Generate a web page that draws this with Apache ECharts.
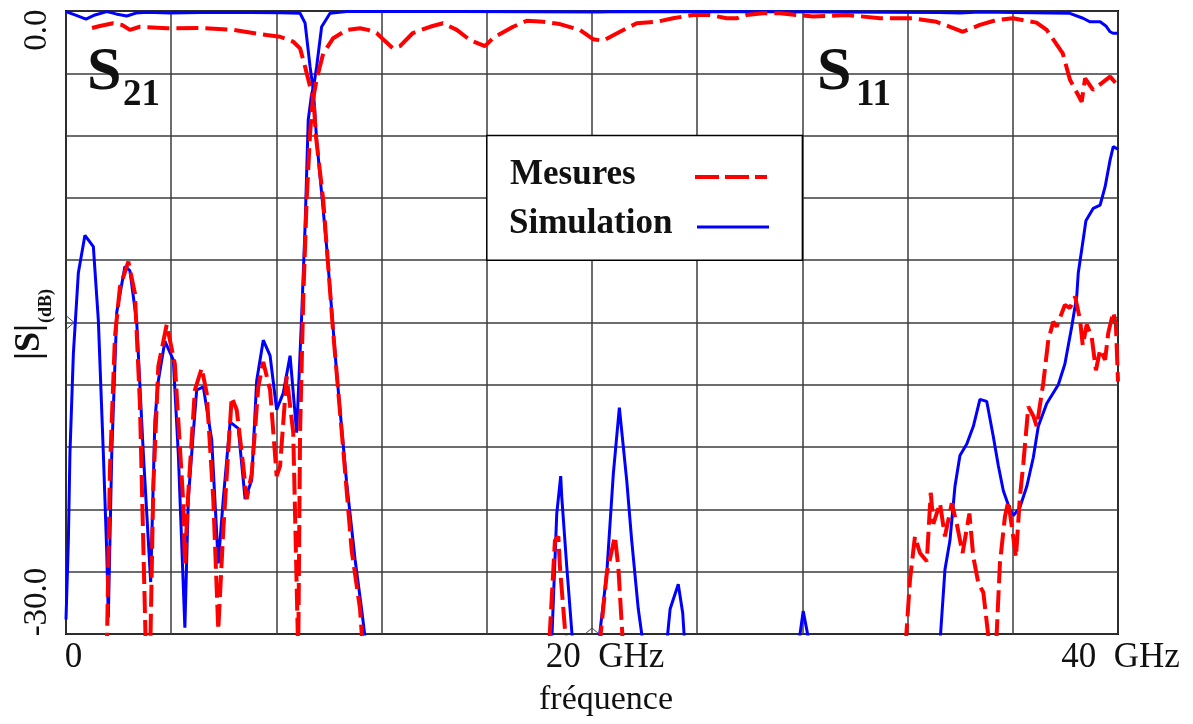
<!DOCTYPE html>
<html>
<head>
<meta charset="utf-8">
<title>S21 / S11</title>
<script src="https://cdn.jsdelivr.net/npm/echarts@6/dist/echarts.min.js"></script>
<style>
  html, body { margin: 0; padding: 0; background: #fff; }
  #main { width: 1193px; height: 724px; }
</style>
</head>
<body>
<div id="main"></div>
<script>
// axes (GHz / dB)
var xTicks = [0, 20, 40];
var xTickText = ['0', '20  GHz', '40  GHz'];
var yTickText = ['0.0', '-30.0'];

// S21 simulation (blue, top)
var s21SimFreq = [0.00, 0.34, 0.76, 1.10, 1.55, 1.90, 2.31, 2.66, 3.07, 3.95, 5.10, 7.00, 8.14, 8.90, 9.09, 9.28, 9.40, 9.53, 9.72, 10.04, 10.67, 15.0, 20.3, 21.0, 27.0, 33.2, 34.0, 34.75, 37.4, 38.17, 38.67, 38.94, 39.32, 39.54, 39.70, 39.81, 40.00];
var s21SimDb = [-0.03, -0.19, -0.39, -0.19, -0.03, -0.14, -0.24, -0.10, -0.06, -0.10, -0.07, -0.07, -0.08, -0.11, -0.58, -2.68, -3.8, -2.68, -0.76, -0.11, -0.03, -0.03, -0.05, -0.03, -0.04, -0.07, -0.10, -0.05, -0.10, -0.11, -0.35, -0.52, -0.52, -0.72, -1.00, -1.07, -1.07];

// S21 mesures (red dashed, top)
var s21MesFreq = [0.99, 1.29, 1.79, 2.13, 2.43, 2.81, 3.83, 5.10, 6.35, 7.63, 8.14, 8.64, 8.90, 9.09, 9.28, 9.40, 9.53, 9.78, 10.16, 10.67, 11.18, 11.48, 11.81, 12.09, 12.43, 12.70, 13.19, 13.84, 14.33, 14.86, 15.36, 15.93, 16.24, 17.00, 17.52, 18.14, 18.78, 19.54, 20.04, 20.42, 21.06, 21.70, 22.46, 23.08, 23.84, 24.49, 25.12, 25.50, 25.88, 26.50, 27.15, 27.78, 28.40, 29.68, 30.95, 32.20, 33.10, 34.10, 34.75, 35.39, 36.00, 36.90, 37.29, 37.90, 38.17, 38.62, 38.75, 39.05, 39.70, 40.00];
var s21MesDb = [-0.82, -0.72, -0.59, -0.67, -0.91, -0.76, -0.83, -0.82, -0.91, -1.16, -1.24, -1.48, -1.80, -2.68, -3.64, -4.2, -3.30, -2.04, -1.31, -0.91, -0.83, -0.91, -1.06, -1.40, -1.80, -1.69, -1.06, -0.76, -0.59, -0.91, -1.40, -1.69, -1.30, -0.76, -0.47, -0.52, -0.63, -0.91, -1.36, -1.43, -1.00, -0.59, -0.52, -0.35, -0.19, -0.19, -0.35, -0.35, -0.19, -0.11, -0.11, -0.19, -0.27, -0.19, -0.35, -0.35, -0.52, -1.00, -0.67, -0.43, -0.35, -0.56, -0.91, -2.04, -3.30, -4.37, -3.24, -3.80, -3.16, -3.60];

// S11 simulation (blue, bottom); -31 = below the -30 dB floor
var s11SimFreq = [0.00, 0.09, 0.15, 0.28, 0.47, 0.72, 1.04, 1.23, 1.42, 1.55, 1.61, 1.74, 1.93, 2.24, 2.43, 2.69, 2.94, 3.22, 3.38, 3.51, 3.76, 4.08, 4.27, 4.52, 4.65, 4.84, 4.97, 5.22, 5.54, 5.79, 5.98, 6.24, 6.55, 6.81, 7.06, 7.25, 7.50, 7.76, 8.01, 8.26, 8.52, 8.77, 8.96, 9.09, 9.21, 9.34, 9.40, 9.53, 9.91, 10.29, 10.67, 10.99, 11.24, 11.45,
  18.45, 18.66, 18.81, 18.85, 19.04, 19.30, 20.20, 20.56, 20.81, 21.04, 21.32, 21.51, 21.76, 22.00, 22.80, 22.97, 23.28, 23.45, 23.55, 27.80, 28.03, 28.35,
  33.20, 33.42, 33.61, 33.80, 33.99, 34.25, 34.50, 34.75, 35.01, 35.26, 35.45, 35.64, 35.89, 36.02, 36.27, 36.53, 36.78, 36.97, 37.29, 37.73, 37.98, 38.24, 38.43, 38.49, 38.62, 38.78, 39.06, 39.32, 39.51, 39.70, 39.82, 40.00];
var s11SimDb = [-29.3, -25.5, -21.3, -16.5, -12.6, -10.8, -11.35, -14.9, -21.3, -26.1, -29.2, -21.3, -14.5, -12.3, -12.5, -15.0, -21.3, -27.5, -19.7, -17.8, -15.9, -16.8, -21.3, -29.7, -23.5, -20.3, -18.25, -18.1, -20.65, -26.6, -23.5, -19.8, -20.1, -23.5, -22.6, -17.8, -15.85, -16.6, -19.2, -18.4, -16.6, -20.3, -14.7, -10.4, -5.25, -4.0, -3.7, -6.2, -11.35, -17.4, -22.7, -26.4, -28.8, -31,
  -31, -24.2, -22.4, -23.4, -26.75, -31, -31, -27.1, -22.3, -19.1, -22.6, -25.5, -28.8, -31, -31, -28.8, -27.6, -29.0, -31, -31, -28.9, -31,
  -31, -26.9, -25.5, -22.9, -21.4, -20.85, -20.0, -18.7, -18.8, -20.5, -21.9, -23.1, -24.0, -24.3, -23.9, -22.9, -21.5, -20.0, -18.9, -18.0, -17.0, -15.2, -13.75, -12.6, -11.5, -10.1, -9.5, -9.35, -8.46, -7.17, -6.53, -6.66];

// S11 mesures (red dashed, bottom)
var s11MesFreq = [1.55, 1.67, 1.86, 2.05, 2.37, 2.62, 2.81, 3.04, 3.20, 3.32, 3.51, 3.83, 4.14, 4.46, 4.52, 4.64, 4.90, 5.16, 5.35, 5.60, 5.79, 5.98, 6.30, 6.49, 6.74, 6.87, 7.06, 7.31, 7.50, 7.76, 8.01, 8.14, 8.39, 8.64, 8.83, 8.90, 9.02, 9.15, 9.28, 9.40, 9.50, 9.78, 10.16, 10.54, 10.86, 11.18, 11.30,
  18.35, 18.59, 18.72, 18.78, 19.05, 20.25, 20.56, 20.87, 21.00, 21.20,
  31.90, 32.09, 32.28, 32.47, 32.73, 32.88, 32.98, 33.23, 33.42, 33.68, 33.87, 34.09, 34.35, 34.50, 34.69, 34.88, 35.15, 35.35, 35.51, 35.70, 35.83, 35.96, 36.12, 36.27, 36.40, 36.59, 36.78, 36.91, 37.16, 37.35, 37.54, 37.67, 37.98, 38.17, 38.37, 38.56, 38.66, 38.81, 39.00, 39.16, 39.32, 39.51, 39.63, 39.82, 39.92, 40.00];
var s11MesDb = [-31, -22.1, -15.7, -13.3, -12.07, -13.6, -18.9, -31, -31, -22.9, -17.1, -15.1, -17.0, -23.7, -26.6, -23.4, -18.25, -17.2, -18.4, -23.5, -29.8, -25.0, -18.6, -19.2, -21.9, -23.5, -22.3, -18.1, -16.9, -18.25, -22.4, -21.9, -17.6, -20.3, -31, -20.3, -13.9, -9.1, -5.9, -4.0, -6.0, -9.1, -15.5, -21.1, -25.95, -28.8, -31,
  -31, -25.5, -25.3, -26.75, -31, -31, -27.1, -25.3, -26.75, -31,
  -31, -27.4, -25.3, -26.1, -26.5, -23.2, -24.7, -23.7, -25.3, -23.7, -24.7, -26.1, -24.2, -26.3, -27.55, -28.0, -31, -31, -26.6, -24.35, -23.6, -24.8, -26.3, -23.4, -21.8, -19.05, -19.5, -20.0, -17.9, -15.84, -14.96, -15.2, -14.15, -14.3, -13.75, -14.9, -16.1, -15.1, -15.7, -17.3, -16.3, -16.8, -15.5, -14.5, -15.1, -17.85];

var SERIF = "'Liberation Serif', 'Times New Roman', serif";
var RED = '#ff0000';
var BLUE = '#0000ff';

function pairs(f, v) {
    return f.map(function (x, i) { return [x, v[i]]; });
}

//实测曲线 虚线
function mesSeries(name, f, v) {
    return {
        name: name, type: 'line', symbol: 'none', clip: true, z: 4,
        lineStyle: {color: RED, width: 4, type: [22, 7]},
        data: pairs(f, v)
    };
}
//仿真曲线 实线
function simSeries(name, f, v) {
    return {
        name: name, type: 'line', symbol: 'none', clip: true, z: 3,
        lineStyle: {color: BLUE, width: 3},
        data: pairs(f, v)
    };
}

var chart = echarts.init(document.getElementById('main'));
chart.setOption({
    animation: false,
    backgroundColor: '#fff',
    grid: {left: 66, top: 11, right: 75, bottom: 90, show: true, borderColor: '#000', borderWidth: 2},
    xAxis: {
        type: 'value', min: 0, max: 40, interval: 4,
        axisLine: {show: false}, axisTick: {show: false},
        splitLine: {show: true, lineStyle: {color: '#3c3c3c', width: 1.5}},
        axisLabel: {
            showMinLabel: true, showMaxLabel: true, margin: 6,
            color: '#111', fontFamily: SERIF, fontSize: 35,
            formatter: function (v) {
                var i = xTicks.indexOf(v);
                if (i < 0) return '';
                return '{t' + i + '|' + xTickText[i] + '}';
            },
            rich: {
                t0: {fontFamily: SERIF, fontSize: 35, color: '#111', padding: [0, 0, 0, 15]},
                t1: {fontFamily: SERIF, fontSize: 35, color: '#111', padding: [0, 0, 0, 26]},
                t2: {fontFamily: SERIF, fontSize: 35, color: '#111', padding: [0, 0, 0, 5]}
            }
        }
    },
    yAxis: {
        type: 'value', min: -30, max: 0, interval: 3,
        axisLine: {show: false}, axisTick: {show: false}, axisLabel: {show: false},
        splitLine: {show: true, lineStyle: {color: '#3c3c3c', width: 1.5}}
    },
    series: [
        simSeries('S21 Simulation', s21SimFreq, s21SimDb),
        simSeries('S11 Simulation', s11SimFreq, s11SimDb),
        mesSeries('S21 Mesures', s21MesFreq, s21MesDb),
        mesSeries('S11 Mesures', s11MesFreq, s11MesDb)
    ]
});

function px(f, db) {
    return chart.convertToPixel({gridIndex: 0}, [f, db]);
}

function caret(p, pts) {
    return {
        type: 'polyline', z: 20, silent: true,
        shape: {points: pts.map(function (d) { return [p[0] + d[0], p[1] + d[1]]; })},
        style: {stroke: '#444', lineWidth: 1, fill: null}
    };
}

function txt(x, y, text, size, opts) {
    opts = opts || {};
    return {
        type: 'text', z: 30, silent: true, x: x, y: y, rotation: opts.rot || 0,
        style: {
            text: text, fill: '#111',
            font: (opts.bold ? 'bold ' : '') + size + 'px ' + SERIF,
            align: opts.align || 'left', verticalAlign: 'middle'
        }
    };
}

// legend box sits on the grid cells 16-28 GHz, -6 to -12 dB
var b0 = px(16, -6), b1 = px(28, -12);
var top = px(20, 0), bot = px(20, -30), lft = px(0, -15), rgt = px(40, -15);

chart.setOption({
    graphic: [
        {
            type: 'rect', z: 10, silent: true,
            shape: {x: b0[0], y: b0[1], width: b1[0] - b0[0], height: b1[1] - b0[1]},
            style: {fill: '#fff', stroke: '#000', lineWidth: 1.5}
        },
        txt(510, 175, 'Mesures', 35, {bold: true}),
        txt(509, 224, 'Simulation', 35, {bold: true}),
        {
            type: 'line', z: 30, silent: true,
            shape: {x1: 695, y1: 177, x2: 767, y2: 177},
            style: {stroke: RED, lineWidth: 4, lineDash: [24, 6]}
        },
        {
            type: 'line', z: 30, silent: true,
            shape: {x1: 697, y1: 227, x2: 769, y2: 227},
            style: {stroke: BLUE, lineWidth: 3}
        },
        // S21 / S11 labels
        txt(87, 73, 'S', 62, {bold: true}),
        txt(123, 95, '21', 37, {bold: true}),
        txt(817, 73, 'S', 62, {bold: true}),
        txt(856, 95, '11', 37, {bold: true}),
        // y tick labels
        txt(37, 30, yTickText[0], 33, {rot: Math.PI / 2, align: 'center'}),
        txt(37, 602, yTickText[1], 33, {rot: Math.PI / 2, align: 'center'}),
        // y axis title
        txt(30, 342, '|S|', 36, {bold: true, rot: Math.PI / 2, align: 'center'}),
        txt(46, 306, '(dB)', 18, {bold: true, rot: Math.PI / 2, align: 'center'}),
        // x axis title
        txt(606, 700, 'fréquence', 34, {align: 'center'}),
        // centre carets
        caret(top, [[-8, 0], [0, 7], [8, 0]]),
        caret(bot, [[-7, 0], [0, -6], [7, 0]]),
        caret(lft, [[0, -7], [8, 0], [0, 7]]),
        caret(rgt, [[0, -7], [-5, 0], [0, 7]])
    ]
});
</script>
</body>
</html>
